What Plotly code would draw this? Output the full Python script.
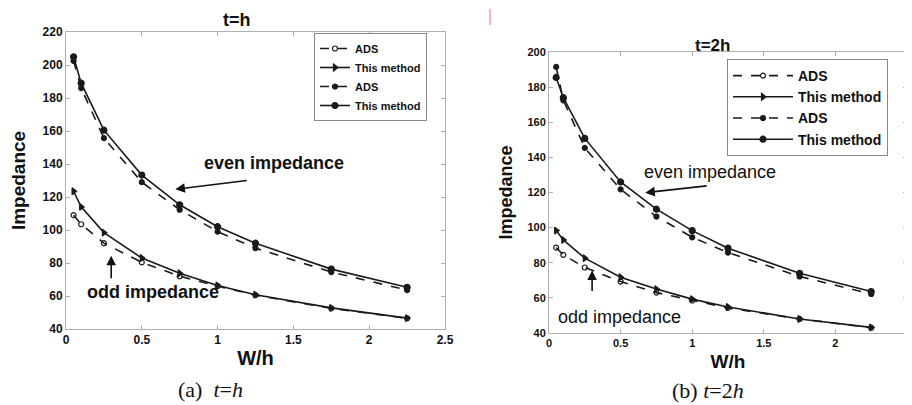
import plotly.graph_objects as go

# ---------------- data ----------------
w_h = [0.05, 0.1, 0.25, 0.5, 0.75, 1.0, 1.25, 1.75, 2.25]

# (a) t = h
odd_ads_a = [109, 103.5, 92, 80.4, 72, 66, 60.5, 52.5, 46.5]
odd_tm_a = [123.5, 114, 98.4, 83, 73.8, 66.4, 60.8, 52.8, 46.6]
even_ads_a = [202.5, 186, 155.7, 129, 112.3, 99, 89, 74.5, 63.6]
even_tm_a = [205, 189, 160.5, 133.3, 115.3, 102, 92, 76.3, 65.3]

# (b) t = 2h
odd_ads_b = [88.6, 84.5, 77.3, 69.3, 63, 58.5, 54.3, 48, 43]
odd_tm_b = [98.3, 93, 82.6, 71.8, 65, 59.3, 54.8, 48, 43.2]
even_ads_b = [191.5, 172.5, 145.4, 121.8, 106.3, 94.5, 85.8, 72.2, 62.2]
even_tm_b = [185.5, 174, 150.8, 126, 110.5, 98.3, 88.3, 74, 63.6]

series_names = ["ADS", "This method", "ADS", "This method"]
x_ticks = [0, 0.5, 1, 1.5, 2, 2.5]
x_tick_text = ["0", "0.5", "1", "1.5", "2", "2.5"]
y_ticks_a = [40, 60, 80, 100, 120, 140, 160, 180, 200, 220]
y_ticks_b = [40, 60, 80, 100, 120, 140, 160, 180, 200]

LINE = "#1a1a1a"
FRAME = "#b0b0b0"
SANS = "Liberation Sans, Arial, sans-serif"
SERIF = "Liberation Serif, Times New Roman, serif"

fig = go.Figure()

styles = [
    dict(dash="dash", symbol="circle-open", size=5),
    dict(dash="solid", symbol="triangle-right", size=6),
    dict(dash="dash", symbol="circle", size=5),
    dict(dash="solid", symbol="circle", size=6),
]

for xa, ya, leg, data in [
    ("x", "y", "legend", [odd_ads_a, odd_tm_a, even_ads_a, even_tm_a]),
    ("x2", "y2", "legend2", [odd_ads_b, odd_tm_b, even_ads_b, even_tm_b]),
]:
    for name, st, vals in zip(series_names, styles, data):
        fig.add_trace(go.Scatter(
            x=w_h, y=vals, name=name, mode="lines+markers",
            xaxis=xa, yaxis=ya, legend=leg,
            line=dict(color=LINE, width=1.6, dash=st["dash"]),
            marker=dict(symbol=st["symbol"], size=st["size"], color=LINE,
                        line=dict(color=LINE, width=1.2)),
        ))

# the page body adds an 8px offset, so the figure is 8px smaller
OFF = 8
W, H = 912 - OFF, 405 - OFF


def px_x(p):
    return (p - OFF) / W


def px_y(p):
    return 1 - (p - OFF) / H


axis_common = dict(
    showline=True, linecolor=FRAME, linewidth=1, mirror="ticks",
    ticks="inside", ticklen=4, tickcolor=FRAME, showgrid=False,
    zeroline=False, color="#111", automargin=False,
)

fig.update_layout(
    width=W, height=H,
    margin=dict(l=0, r=0, t=0, b=0, autoexpand=False),
    paper_bgcolor="white", plot_bgcolor="white",
    xaxis=dict(domain=[px_x(66), px_x(445)], anchor="y", range=[0, 2.5],
               tickvals=x_ticks, ticktext=x_tick_text,
               tickfont=dict(family=SANS, size=12, weight="bold"),
               title=dict(text="W/h", standoff=4,
                          font=dict(family=SANS, size=20, weight="bold")),
               **axis_common),
    yaxis=dict(domain=[px_y(329), px_y(32)], anchor="x", range=[40, 220],
               tickvals=y_ticks_a,
               tickfont=dict(family=SANS, size=12, weight="bold"),
               title=dict(text="Impedance", standoff=14,
                          font=dict(family=SANS, size=19, weight="bold")),
               **axis_common),
    xaxis2=dict(domain=[px_x(549), px_x(907)], anchor="y2", range=[0, 2.5],
                tickvals=x_ticks, ticktext=x_tick_text,
                tickfont=dict(family=SANS, size=11, weight="bold"),
                title=dict(text="W/h", standoff=6,
                           font=dict(family=SANS, size=19, weight="bold")),
                **axis_common),
    yaxis2=dict(domain=[px_y(333), px_y(52)], anchor="x2", range=[40, 200],
                tickvals=y_ticks_b,
                tickfont=dict(family=SANS, size=11, weight="bold"),
                title=dict(text="Impedance", standoff=10,
                           font=dict(family=SANS, size=18, weight="bold")),
                **axis_common),
    legend=dict(x=px_x(314), y=px_y(33), xanchor="left", yanchor="top",
                bgcolor="white", bordercolor="#888", borderwidth=1,
                font=dict(family=SANS, size=11, weight="bold", color="#111"),
                tracegroupgap=0, itemwidth=30),
    legend2=dict(x=px_x(727), y=px_y(59), xanchor="left", yanchor="top",
                 bgcolor="white", bordercolor="#888", borderwidth=1,
                 font=dict(family=SANS, size=14, weight="bold", color="#111"),
                 tracegroupgap=0, itemwidth=60),
    showlegend=True,
)

txt = dict(showarrow=False, xanchor="center", yanchor="middle")
arr = dict(showarrow=True, arrowhead=2, arrowsize=1.2, arrowwidth=1.6,
           arrowcolor="#111", text="")

annotations = [
    # titles
    dict(text="t=h", x=px_x(237), y=px_y(20), xref="paper", yref="paper",
         font=dict(family=SANS, size=18, weight="bold", color="#111"), **txt),
    dict(text="t=2h", x=px_x(712), y=px_y(45), xref="paper", yref="paper",
         font=dict(family=SANS, size=17, weight="bold", color="#111"), **txt),
    # captions
    dict(text="(a)&nbsp;&nbsp;<i>t</i>=<i>h</i>", x=px_x(210), y=px_y(389),
         xref="paper", yref="paper",
         font=dict(family=SERIF, size=22, color="#111"), **txt),
    dict(text="(b) <i>t</i>=2<i>h</i>", x=px_x(708), y=px_y(390),
         xref="paper", yref="paper",
         font=dict(family=SERIF, size=22, color="#111"), **txt),
    # panel (a) labels
    dict(text="even impedance", x=1.369, y=140.9, xref="x", yref="y",
         font=dict(family=SANS, size=18, weight="bold", color="#111"), **txt),
    dict(x=0.721, y=124.7, xref="x", yref="y", ax=73, ay=-9, **arr),
    dict(text="odd impedance", x=0.575, y=62.2, xref="x", yref="y",
         font=dict(family=SANS, size=18, weight="bold", color="#111"), **txt),
    dict(x=0.298, y=84.4, xref="x", yref="y", ax=0, ay=24, **arr),
    # panel (b) labels
    dict(text="even impedance", x=1.127, y=131.6, xref="x2", yref="y2",
         font=dict(family=SANS, size=18, color="#111"), **txt),
    dict(x=0.672, y=119.9, xref="x2", yref="y2", ax=63, ay=-7, **arr),
    dict(text="odd impedance", x=0.49, y=49.3, xref="x2", yref="y2",
         font=dict(family=SANS, size=18, color="#111"), **txt),
    dict(x=0.301, y=75.6, xref="x2", yref="y2", ax=0, ay=22, **arr),
]
fig.update_layout(annotations=annotations)

# small red mark at top
fig.add_shape(type="line", xref="paper", yref="paper",
              x0=px_x(490), x1=px_x(490), y0=px_y(9), y1=px_y(25),
              line=dict(color="#f2a0a0", width=1.5))

fig.write_html("out.html")
